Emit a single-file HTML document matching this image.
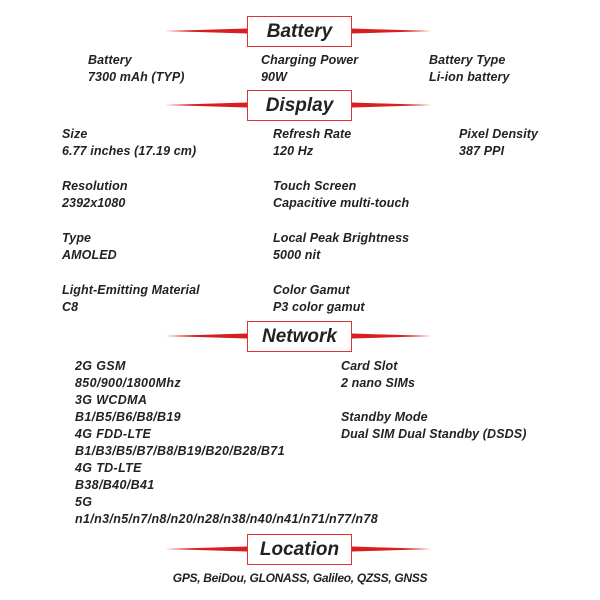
<!DOCTYPE html>
<html><head><style>
body{margin:0;width:600px;height:600px;background:#fff;position:relative;font-family:"Liberation Sans",Arial,sans-serif;font-style:italic;font-weight:bold;color:#222;overflow:hidden}
.t{position:absolute;font-size:12.5px;line-height:17px;white-space:nowrap;letter-spacing:0.1px}
.n{letter-spacing:0.35px;font-size:12.5px}
.h{position:absolute;left:247px;width:103px;height:29px;border:1px solid #d33;background:#fff;text-align:center;font-size:19px;line-height:29px;color:#222}
svg{position:absolute;left:0;top:0}
</style></head><body>
<svg width="600" height="600">
<g fill="#d81e1e">
<polygon points="165,31 247,28.5 247,33.5"/><polygon points="432,31 352,28.5 352,33.5"/>
<polygon points="165,105 247,102.5 247,107.5"/><polygon points="432,105 352,102.5 352,107.5"/>
<polygon points="165,336 247,333.5 247,338.5"/><polygon points="432,336 352,333.5 352,338.5"/>
<polygon points="165,549 247,546.5 247,551.5"/><polygon points="432,549 352,546.5 352,551.5"/>
</g></svg>
<div class="h" style="top:16px">Battery</div>
<div class="h" style="top:90px">Display</div>
<div class="h" style="top:321px">Network</div>
<div class="h" style="top:534px">Location</div>

<div class="t" style="left:88px;top:52px">Battery<br>7300 mAh (TYP)</div>
<div class="t" style="left:261px;top:52px">Charging Power<br>90W</div>
<div class="t" style="left:429px;top:52px">Battery Type<br>Li-ion battery</div>

<div class="t" style="left:62px;top:126px">Size<br>6.77 inches (17.19 cm)</div>
<div class="t" style="left:273px;top:126px">Refresh Rate<br>120 Hz</div>
<div class="t" style="left:459px;top:126px">Pixel Density<br>387 PPI</div>
<div class="t" style="left:62px;top:178px">Resolution<br>2392x1080</div>
<div class="t" style="left:273px;top:178px">Touch Screen<br>Capacitive multi-touch</div>
<div class="t" style="left:62px;top:230px">Type<br>AMOLED</div>
<div class="t" style="left:273px;top:230px">Local Peak Brightness<br>5000 nit</div>
<div class="t" style="left:62px;top:282px">Light-Emitting Material<br>C8</div>
<div class="t" style="left:273px;top:282px">Color Gamut<br>P3 color gamut</div>

<div class="t n" style="left:75px;top:358px">2G GSM<br>850/900/1800Mhz<br>3G WCDMA<br>B1/B5/B6/B8/B19<br>4G FDD-LTE<br>B1/B3/B5/B7/B8/B19/B20/B28/B71<br>4G TD-LTE<br>B38/B40/B41<br>5G<br>n1/n3/n5/n7/n8/n20/n28/n38/n40/n41/n71/n77/n78</div>
<div class="t" style="left:341px;top:358px">Card Slot<br>2 nano SIMs</div>
<div class="t" style="left:341px;top:409px">Standby Mode<br>Dual SIM Dual Standby (DSDS)</div>

<div class="t" style="left:0;width:600px;text-align:center;top:570px;letter-spacing:-0.3px;font-size:12px">GPS, BeiDou, GLONASS, Galileo, QZSS, GNSS</div>
</body></html>
